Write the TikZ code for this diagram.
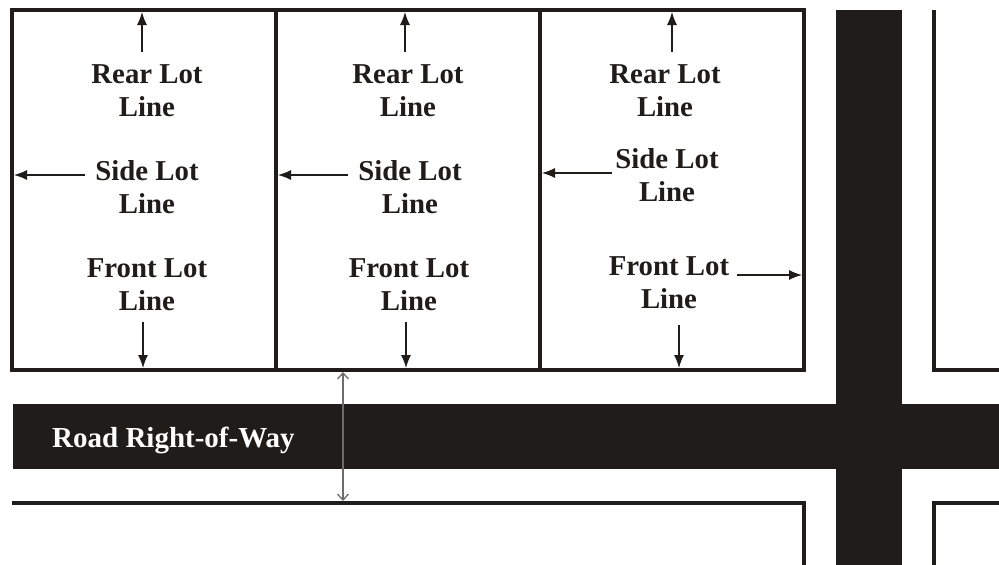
\documentclass[tikz,border=0pt]{standalone}
\usepackage{fontspec}
\setmainfont{Liberation Serif}
\usetikzlibrary{arrows.meta}
\definecolor{ink}{RGB}{32,28,26}
\begin{document}
\begin{tikzpicture}[x=1pt,y=-1pt,
  lotline/.style={draw=ink,line width=3.4pt,line join=miter},
  road/.style={fill=ink},
  lbl/.style={font=\fontsize{28.8}{33}\selectfont\bfseries,align=center,text=ink,inner sep=0pt},
  roadlbl/.style={font=\fontsize{29}{33}\selectfont\bfseries,text=white,inner sep=0pt,anchor=base west},
  ptr/.style={draw=ink,line width=1.2pt,-{Latex[length=13pt,width=10pt]}},
  span/.style={draw=gray!85!black,line width=1.3pt,{Straight Barb[length=6pt,width=11pt]}-{Straight Barb[length=6pt,width=11pt]}}]
\useasboundingbox (0,0) rectangle (999,565);
% roads
\fill[road] (13,404) rectangle (999,469);
\fill[road] (836,10) rectangle (902,565);
% lot lines
\draw[lotline] (12,10) rectangle (804,370);
\draw[lotline] (276,10) -- (276,370);
\draw[lotline] (540,10) -- (540,370);
\draw[lotline] (934,10) -- (934,370) -- (1001,370);
\draw[lotline] (12,503) -- (804,503) -- (804,567);
\draw[lotline] (934,567) -- (934,503) -- (1001,503);
% labels
\node[lbl] (rear1) at (147,90.5) {Rear Lot\\Line};
\node[lbl] (side1) at (147,187.5) {Side Lot\\Line};
\node[lbl] (front1) at (147,284.5) {Front Lot\\Line};
\node[lbl] (rear2) at (408,90.5) {Rear Lot\\Line};
\node[lbl] (side2) at (410,187.5) {Side Lot\\Line};
\node[lbl] (front2) at (409,284.5) {Front Lot\\Line};
\node[lbl] (rear3) at (665,90.5) {Rear Lot\\Line};
\node[lbl] (side3) at (667,175) {Side Lot\\Line};
\node[lbl] (front3) at (669,283) {Front Lot\\Line};
\node[roadlbl] (roadname) at (52,447) {Road Right-of-Way};
% arrow coordinates
\coordinate (r1s) at (142,52);  \coordinate (r1e) at (142,12);
\coordinate (r2s) at (405,52);  \coordinate (r2e) at (405,12);
\coordinate (r3s) at (672,52);  \coordinate (r3e) at (672,12);
\coordinate (s1s) at (85,175);  \coordinate (s1e) at (14,175);
\coordinate (s2s) at (348,175); \coordinate (s2e) at (278,175);
\coordinate (s3s) at (612,173); \coordinate (s3e) at (542,173);
\coordinate (f1s) at (143,322); \coordinate (f1e) at (143,368);
\coordinate (f2s) at (406,322); \coordinate (f2e) at (406,368);
\coordinate (f3s) at (679,325); \coordinate (f3e) at (679,368);
\coordinate (f3rs) at (737,275); \coordinate (f3re) at (802,275);
\coordinate (spanA) at (343,372); \coordinate (spanB) at (343,501);
% arrows
\draw[ptr] (r1s) -- (r1e);
\draw[ptr] (r2s) -- (r2e);
\draw[ptr] (r3s) -- (r3e);
\draw[ptr] (s1s) -- (s1e);
\draw[ptr] (s2s) -- (s2e);
\draw[ptr] (s3s) -- (s3e);
\draw[ptr] (f1s) -- (f1e);
\draw[ptr] (f2s) -- (f2e);
\draw[ptr] (f3s) -- (f3e);
\draw[ptr] (f3rs) -- (f3re);
\draw[span] (spanA) -- (spanB);
\end{tikzpicture}
\end{document}
